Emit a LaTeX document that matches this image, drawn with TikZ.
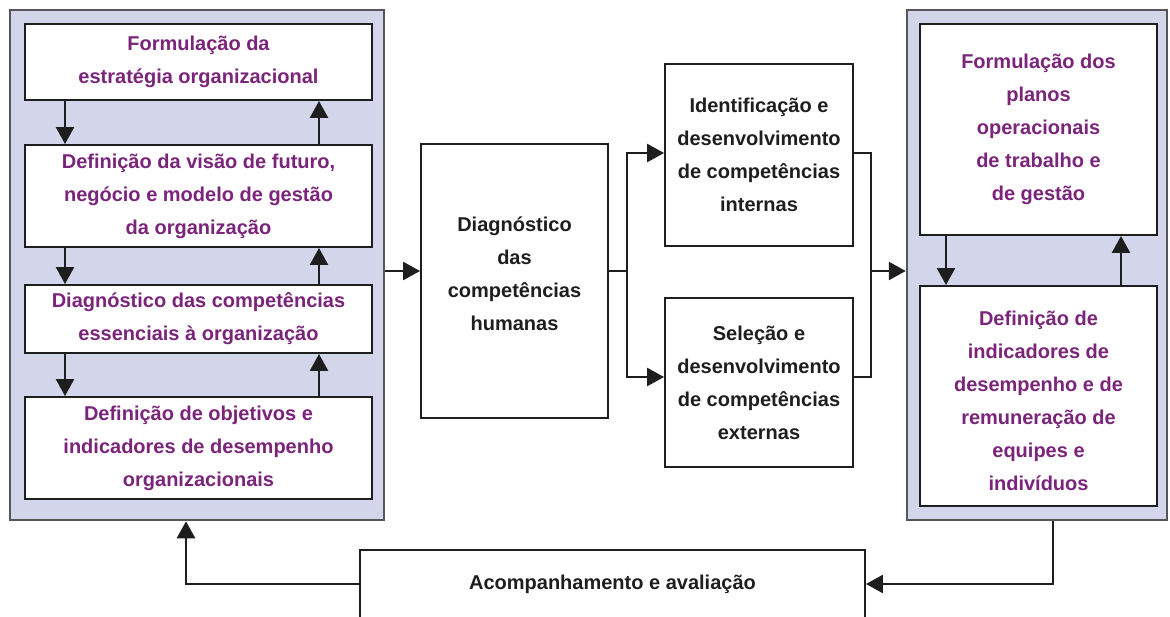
\documentclass[tikz,border=0pt]{standalone}
\usepackage{fontspec}
\setmainfont{Liberation Sans}
\usetikzlibrary{arrows.meta}
\definecolor{panelfill}{RGB}{211,213,234}
\definecolor{panelline}{RGB}{85,85,90}
\definecolor{purp}{RGB}{122,36,122}
\definecolor{ink}{RGB}{30,30,30}
\tikzset{
 panel/.style={draw=panelline, fill=panelfill, line width=2.5pt, inner sep=0pt},
 pbox/.style={draw=ink, fill=white, line width=1.9pt, inner sep=0pt, align=center, text=purp, font=\fontsize{20}{33}\selectfont\bfseries},
 kbox/.style={pbox, text=ink},
 arr/.style={draw=ink, line width=2.5pt, -{Triangle[width=18pt,length=17pt]}},
 ln/.style={draw=ink, line width=2.5pt},
}
\begin{document}
\begin{tikzpicture}[x=1pt,y=-1pt]
\clip (0,0) rectangle (1170,616);
\fill[white] (0,0) rectangle (1170,616);
% left panel
\node[panel, minimum width=374pt, minimum height=510pt] (lp) at (197,265) {};
\node[pbox, minimum width=347pt, minimum height=76pt] (b1) at (198.5,62) {Formulação da\\estratégia organizacional};
\node[pbox, minimum width=347pt, minimum height=102pt] (b2) at (198.5,196) {Definição da visão de futuro,\\negócio e modelo de gestão\\da organização};
\node[pbox, minimum width=347pt, minimum height=68pt] (b3) at (198.5,319) {Diagnóstico das competências\\essenciais à organização};
\node[pbox, minimum width=347pt, minimum height=102pt] (b4) at (198.5,448) {Definição de objetivos e\\indicadores de desempenho\\organizacionais};
% right panel
\node[panel, minimum width=260pt, minimum height=510pt] (rp) at (1037,265) {};
\node[pbox, minimum width=237pt, minimum height=211pt] (r1) at (1038.5,129.5) {Formulação dos\\planos\\operacionais\\de trabalho e\\de gestão};
\node[pbox, minimum width=237pt, minimum height=220pt] (r2) at (1038.5,396) {Definição de\\indicadores de\\desempenho e de\\remuneração de\\equipes e\\indivíduos\\[-43pt]};
% middle
\node[kbox, minimum width=187pt, minimum height=274pt] (diag) at (514.5,281) {Diagnóstico\\das\\competências\\humanas\\[-19pt]};
\node[kbox, minimum width=188pt, minimum height=182pt] (int) at (759,155) {Identificação e\\desenvolvimento\\de competências\\internas};
\node[kbox, minimum width=188pt, minimum height=169pt] (ext) at (759,382.5) {Seleção e\\desenvolvimento\\de competências\\externas};
\node[kbox, minimum width=505pt, minimum height=68pt] (acomp) at (612.5,584) {Acompanhamento e avaliação};
% coordinates
\coordinate (ymain) at (0,271);
\coordinate (ytop) at (0,153);
\coordinate (ybot) at (0,377);
\coordinate (ylow) at (0,584);
\coordinate (xsplit) at (627,0);
\coordinate (xmerge) at (871,0);
\coordinate (xret) at (186,0);
\coordinate (xout) at (1053,0);
\coordinate (xdl) at (65,0);
\coordinate (xul) at (319,0);
\coordinate (xdr) at (946,0);
\coordinate (xur) at (1121,0);
% left panel internal arrows
\draw[arr] (xdl |- b1.south) -- (xdl |- b2.north);
\draw[arr] (xul |- b2.north) -- (xul |- b1.south);
\draw[arr] (xdl |- b2.south) -- (xdl |- b3.north);
\draw[arr] (xul |- b3.north) -- (xul |- b2.south);
\draw[arr] (xdl |- b3.south) -- (xdl |- b4.north);
\draw[arr] (xul |- b4.north) -- (xul |- b3.south);
% right panel internal arrows
\draw[arr] (xdr |- r1.south) -- (xdr |- r2.north);
\draw[arr] (xur |- r2.north) -- (xur |- r1.south);
% main flow
\draw[arr] (lp.east |- ymain) -- (diag.west |- ymain);
\draw[ln] (diag.east |- ymain) -- (xsplit |- ymain);
\draw[arr] (xsplit |- ymain) |- (int.west |- ytop);
\draw[arr] (xsplit |- ymain) |- (ext.west |- ybot);
\draw[ln] (int.east |- ytop) -| (xmerge |- ymain);
\draw[ln] (ext.east |- ybot) -| (xmerge |- ymain);
\draw[arr] (xmerge |- ymain) -- (rp.west |- ymain);
% feedback loop
\draw[arr] (xout |- rp.south) |- (acomp.east |- ylow);
\draw[arr] (acomp.west |- ylow) -| (xret |- lp.south);
\end{tikzpicture}
\end{document}
